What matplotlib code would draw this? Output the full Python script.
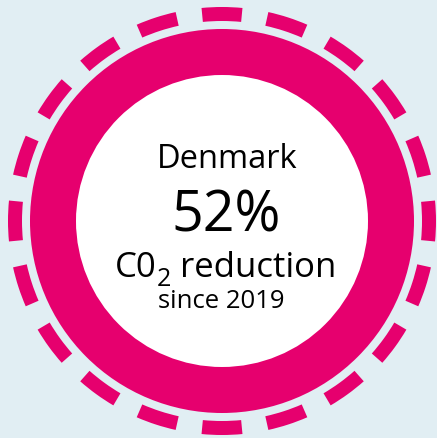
import matplotlib
matplotlib.use("Agg")
import matplotlib.pyplot as plt
from matplotlib.patches import Circle, Wedge

# ==========================
# Data
# ==========================

country = "Denmark"
reduction_pct = 52
base_year = 2019
n_dashes = 20
dash_fraction = 0.61   # share of each dash period that is drawn

pink = "#e6006e"
bg = "#e1eef3"
font = "Open Sans"

W, H = 437, 438
cx, cy = 222, 221

# ==========================
# Figure
# ==========================

fig = plt.figure(figsize=(W / 100, H / 100), dpi=100)
fig.patch.set_facecolor(bg)
ax = fig.add_axes([0, 0, 1, 1])
ax.set_xlim(0, W)
ax.set_ylim(H, 0)
ax.set_aspect("equal")
ax.axis("off")

# dashed outer ring
step = 360 / n_dashes
for i in range(n_dashes):
    mid = 90 + i * step
    half = step * dash_fraction / 2
    ax.add_patch(Wedge((cx, cy), 214, mid - half, mid + half, width=14,
                       facecolor=pink, edgecolor="none"))

# thick ring + white centre
ax.add_patch(Circle((cx, cy), 192, facecolor=pink, edgecolor="none"))
ax.add_patch(Circle((cx, cy), 146, facecolor="white", edgecolor="none"))

# ==========================
# Text
# ==========================

ax.text(227, 168, country, ha="center", va="baseline", fontsize=23.5,
        family=font, color="black")
ax.text(226, 231, f"{reduction_pct}%", ha="center", va="baseline",
        fontsize=40, family=font, color="black")

# CO2 line built from parts
fig.canvas.draw()
r = fig.canvas.get_renderer()
parts = [("C0", 25, 0), ("2", 18, 9), (" reduction", 25, 0)]
objs = []
for s, fs, dy in parts:
    t = ax.text(0, 277 + dy, s, ha="left", va="baseline", fontsize=fs,
                family=font, color="black")
    objs.append(t)
widths = [t.get_window_extent(r).width for t in objs]
x = 226 - sum(widths) / 2
for t, w in zip(objs, widths):
    t.set_x(x)
    x += w

ax.text(221, 308, f"since {base_year}", ha="center", va="baseline",
        fontsize=18.5, family=font, color="black")

plt.savefig("out.png", dpi=100, facecolor=bg)
